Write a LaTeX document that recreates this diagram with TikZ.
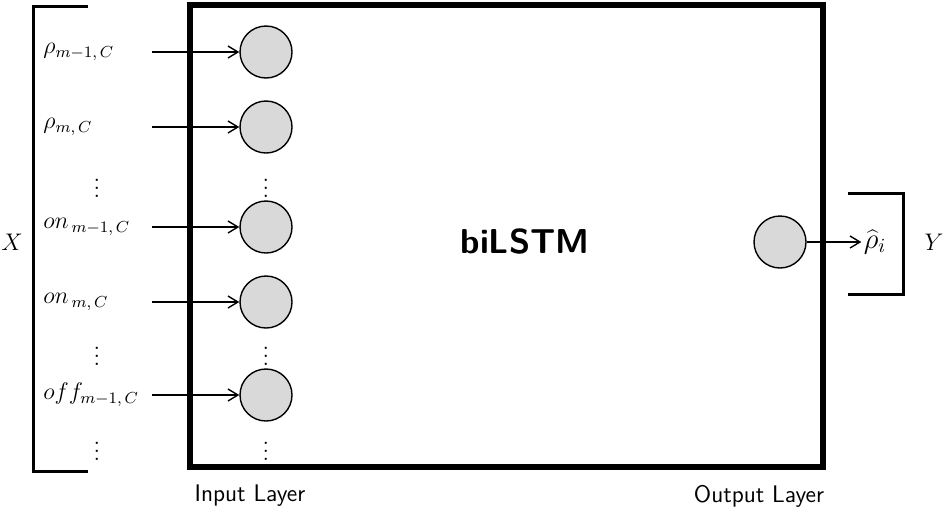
\documentclass[tikz,border=0pt]{standalone}
\usetikzlibrary{arrows.meta}

\begin{document}
\begin{tikzpicture}[x=0.5pt, y=-0.5pt, >={Straight Barb[length=5pt,width=6pt]}]
\tikzset{neuron/.style={circle, draw, fill=black!15, minimum size=26pt, inner sep=0pt, line width=0.7pt},
 feat/.style={anchor=west, font=\large, inner sep=0},
 dots/.style={font=\large, inner sep=0},
 layer/.style={font=\sffamily\large}}
\useasboundingbox (0,0) rectangle (946,509);
\draw[line width=3pt] (190,5) rectangle (823,467);
\node[font=\sffamily\bfseries\LARGE] (net) at (525,242) {biLSTM};
% inputs
\foreach \y/\name/\lab in {52/i1/{\rho_{m-1,\,C}}, 127/i2/{\rho_{m,\,C}}, 227/i3/{on_{\,m-1,\,C}}, 302/i4/{on_{\,m,\,C}}, 395/i5/{off_{m-1,\,C}}} {
 \node[neuron] (\name) at (266,\y) {};
 \node[feat] (x\name) at (43,\y) {$\lab$};
 \coordinate (s\name) at (152,\y);
 \draw[->, line width=0.7pt] (s\name) -- (\name);
}
\foreach \y [count=\k] in {182,350,445} {
 \node[dots] (ldots\k) at (97,\y) {$\vdots$};
 \node[dots] (rdots\k) at (266,\y) {$\vdots$};
}
\draw[line width=1.5pt] (88,6) -- (33,6) -- (33,471) -- (88,471);
\node[font=\large] (X) at (12,242) {$X$};
% output
\node[neuron] (o1) at (780,242) {};
\node[font=\Large, inner sep=1pt] (yhat) at (875,242) {$\widehat{\rho}_i$};
\draw[->, line width=0.7pt] (o1) -- (yhat);
\draw[line width=1.5pt] (848,193) -- (903,193) -- (903,294) -- (848,294);
\node[font=\large] (Y) at (934,242) {$Y$};
\node[layer] (inl) at (250,496) {Input Layer};
\node[layer] (outl) at (759,496) {Output Layer};
\end{tikzpicture}
\end{document}
